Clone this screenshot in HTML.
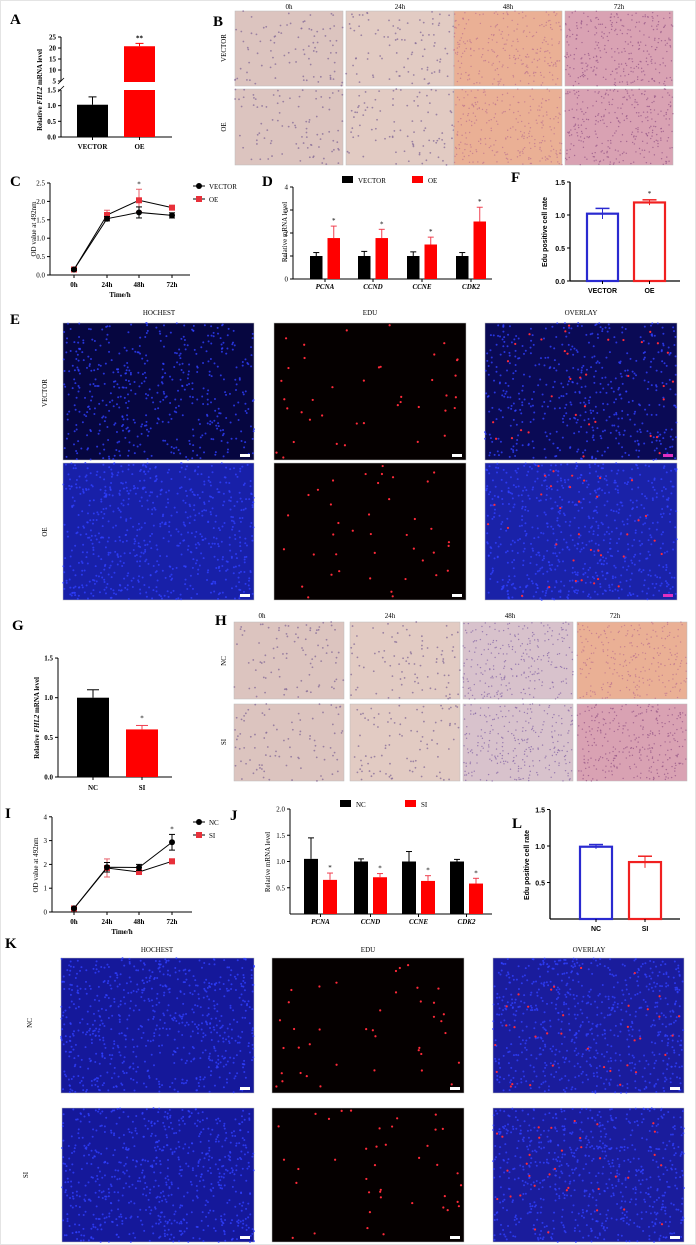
<!DOCTYPE html>
<html><head><meta charset="utf-8"><style>
html,body{margin:0;padding:0;background:#fff}
svg{display:block;font-family:"Liberation Serif",serif}
.lbl{font-weight:bold;font-size:15px}
.t{font-size:7px}
.tb{font-size:7px;font-weight:bold}
</style></head><body>
<svg id="fig" width="696" height="1245" viewBox="0 0 696 1245" xmlns="http://www.w3.org/2000/svg">
<rect x="0.5" y="0.5" width="695" height="1244" fill="#fff" stroke="#e4e4e4"/>
<g id="g"></g>
</svg>
<script>
// ---------- DATA ----------
const aCats=["VECTOR","OE"];
const aVals=[1.03,20.8];
const aErr=[0.25,1.3];
const cTimes=["0h","24h","48h","72h"];
const cVector=[0.15,1.53,1.70,1.62];
const cVectorErr=[0.03,0.06,0.15,0.07];
const cOE=[0.15,1.63,2.03,1.83];
const cOEErr=[0.03,0.13,0.3,0.03];
const dGenes=["PCNA","CCND","CCNE","CDK2"];
const dVector=[1.0,1.0,1.0,1.0];
const dVectorErr=[0.15,0.2,0.18,0.15];
const dOE=[1.78,1.78,1.5,2.5];
const dOEErr=[0.52,0.38,0.32,0.62];
const fCats=["VECTOR","OE"];
const fVals=[1.02,1.19];
const fErr=[0.08,0.04];
const gCats=["NC","SI"];
const gVals=[1.0,0.6];
const gErr=[0.1,0.05];
const iNC=[0.15,1.88,1.87,2.93];
const iNCErr=[0.03,0.2,0.13,0.33];
const iSI=[0.15,1.85,1.68,2.13];
const iSIErr=[0.03,0.38,0.05,0.1];
const jNC=[1.05,1.0,1.0,1.0];
const jNCErr=[0.4,0.05,0.19,0.04];
const jSI=[0.65,0.7,0.63,0.58];
const jSIErr=[0.13,0.07,0.1,0.1];
const lCats=["NC","SI"];
const lVals=[0.99,0.78];
const lErr=[0.03,0.08];
const aTicksLow=["0.0","0.5","1.0","1.5"];
const aTicksHigh=["5","10","15","20","25"];

// ---------- helpers ----------
const NS="http://www.w3.org/2000/svg";
const G=document.getElementById('g');
function el(tag,attrs,parent,txt){const e=document.createElementNS(NS,tag);for(const k in attrs)e.setAttribute(k,attrs[k]);if(txt!==undefined)e.textContent=txt;(parent||G).appendChild(e);return e;}
function line(x1,y1,x2,y2,c,w,p){return el('line',{x1,y1,x2,y2,stroke:c||'#000','stroke-width':w||1},p);}
function text(x,y,s,cls,anchor,p,extra){const t=el('text',Object.assign({x,y,class:cls||'t','text-anchor':anchor||'middle'},extra||{}),p,s);return t;}
function errBar(x,yTop,yVal,c,p,hw){hw=hw||4;line(x,yTop,x,yVal,c,1,p);line(x-hw,yTop,x+hw,yTop,c,1,p);}
let seed=7;function rnd(){seed=(seed*16807)%2147483647;return (seed-1)/2147483646;}

function panelLabel(x,y,s){const t=text(x,y,s,'lbl','start');}

// micrograph tile
function tile(x,y,w,h,kind,name){
  const g=el('g',{});
  
  
  const bg={pale:'#dcc4bf',pale2:'#e2cbc3',orange:'#eab095',pink:'#d9a2b3',lilac:'#d8c2cc',hoD:'#060640',hoB:'#1820a8',hoK:'#15189a',edu:'#050000',ovD:'#0a0a55',ovB:'#1a22a8',ovK:'#1a1c9c'}[kind];
  el('rect',{x,y,width:w,height:h,fill:bg,stroke:'#bbb','stroke-width':0.5},g);
  let n=0,col='#000',r=1,red=0;
  if(kind==='pale'||kind==='pale2'){n=90;col='#8a6f9a';r=0.9;}
  if(kind==='orange'){n=260;col='#c07890';r=0.7;}
  if(kind==='pink'){n=300;col='#9a5a8a';r=0.7;}
  if(kind==='lilac'){n=260;col='#8a6aa8';r=0.7;}
  if(kind.startsWith('ho')||kind.startsWith('ov')){n=kind==='hoD'||kind==='ovD'?500:700;col='#3040ff';r=1;}
  if(kind==='edu'){n=0;red=40;}
  if(kind.startsWith('ov'))red=35;
  for(let i=0;i<n;i++)el('circle',{cx:x+rnd()*w,cy:y+rnd()*h,r:r,fill:col,opacity:0.8},g);
  for(let i=0;i<red;i++)el('circle',{cx:x+2+rnd()*(w-4),cy:y+2+rnd()*(h-4),r:1.1,fill:'#ff2a3a'},g);
  if(kind.startsWith('ho')||kind==='edu'||kind.startsWith('ov'))el('rect',{x:x+w-14,y:y+h-6,width:10,height:3,fill:kind.startsWith('ov')&&kind!=='ovK'?'#e030c0':'#fff'},g);
}

function yAxis(x,y0,yTop,ticks,fmt,bold){line(x,y0,x,yTop);ticks.forEach(v=>{const yy=fmt.y(v);line(x-3,yy,x,yy);text(x-5,yy+2.5,fmt.s(v),bold?'tb':'t','end');});}

// ---------- Panel A ----------
panelLabel(10,24,'A');
(function(){
  const X=61,y0=137;const yLow=v=>y0-v*(47/1.5);const yHigh=v=>81-(v-5)*(44/20);
  line(X,y0,X,90);line(X,81,X,37);
  aTicksLow.forEach(s=>{const v=parseFloat(s);line(X-3,yLow(v),X,yLow(v));text(X-5,yLow(v)+2.5,s,'tb','end');});
  aTicksHigh.forEach(s=>{const v=parseFloat(s);line(X-3,yHigh(v),X,yHigh(v));text(X-5,yHigh(v)+2.5,s,'tb','end');});
  line(X-3,92,X+3,86,'#000',0.8);line(X-3,84,X+3,78,'#000',0.8);
  line(X,y0,172,y0);
  const cx=[92.5,139.5];const cols=['#000','#ff0000'];
  const b0=el('rect',{x:77,y:yLow(aVals[0]),width:31,height:y0-yLow(aVals[0]),fill:cols[0]});
  errBar(cx[0],yLow(aVals[0]+aErr[0]),yLow(aVals[0]),'#000');
  const b1=el('rect',{x:124,y:90,width:31,height:y0-90,fill:cols[1]});
  const b2=el('rect',{x:124,y:yHigh(aVals[1]),width:31,height:82-yHigh(aVals[1]),fill:cols[1]});
  errBar(cx[1],yHigh(aVals[1]+aErr[1]),yHigh(aVals[1]),'#ff0000');
  text(cx[1],yHigh(aVals[1]+aErr[1])-3,'**','tb');
  aCats.forEach((c,i)=>{line(cx[i],y0,cx[i],y0+3);text(cx[i],149,c,'tb');});
  const yt=text(0,0,'','tb','middle',G,{transform:'translate(42,90) rotate(-90)'});
  
  yt.innerHTML='Relative <tspan font-style="italic">FHL2</tspan> mRNA level';
})();

// ---------- Panel B ----------
panelLabel(213,26,'B');
(function(){
  const xs=[235,346,454,565],w=108,labs=["0h","24h","48h","72h"];
  const k1=['pale','pale2','orange','pink'],k2=['pale','pale2','orange','pink'];
  labs.forEach((l,i)=>{text(xs[i]+w/2,9,l,'t','middle',G,{'font-size':'9'});
    tile(xs[i],11,w,75,k1[i],'b-vector-'+l);tile(xs[i],89,w,76,k2[i],'b-oe-'+l);});
  text(0,0,'VECTOR','t','middle',G,{transform:'translate(226,48) rotate(-90)','font-size':'10'});
  text(0,0,'OE','t','middle',G,{transform:'translate(226,127) rotate(-90)','font-size':'10'});
})();

// ---------- line charts ----------
function lineChart(X,y0,yTop,xs,ticks,tickLabels,yScale,s1,e1,s2,e2,names,legX,legY,prefix,star){
  line(X,y0,X,yTop);line(X,y0,X+140,y0);
  ticks.forEach((v,i)=>{const yy=yScale(v);line(X-3,yy,X,yy);text(X-5,yy+2.5,tickLabels[i],'t','end');});
  cTimes.forEach((t,i)=>{line(xs[i],y0,xs[i],y0+3);text(xs[i],y0+12,t,'tb');});
  text(X+70,y0+22,'Time/h','tb');
  const series=[[s2,e2,'#e8303a','sq',names[1]],[s1,e1,'#000','ci',names[0]]];
  series.forEach(([s,e,c,m,nm])=>{
    const pts=s.map((v,i)=>xs[i]+','+yScale(v)).join(' ');
    const pl=el('polyline',{points:pts,fill:'none',stroke:'#000','stroke-width':1});
    
    s.forEach((v,i)=>{const y=yScale(v);const ec=c==='#000'?'#000':'#e8606a';line(xs[i],yScale(v+e[i]),xs[i],yScale(v-e[i]),ec);line(xs[i]-3,yScale(v+e[i]),xs[i]+3,yScale(v+e[i]),ec);line(xs[i]-3,yScale(v-e[i]),xs[i]+3,yScale(v-e[i]),ec);
      const mk=m==='sq'?el('rect',{x:xs[i]-3,y:y-3,width:6,height:6,fill:c}):el('circle',{cx:xs[i],cy:y,r:3,fill:c});
      });
  });
  if(star!==undefined){const i=star;text(xs[i],yScale(Math.max(s1[i]+e1[i],s2[i]+e2[i]))-3,'*','t');}
  [[names[0],'#000','ci'],[names[1],'#e8303a','sq']].forEach(([nm,c,m],k)=>{const y=legY+k*13;line(legX,y,legX+12,y);
    if(m==='sq')el('rect',{x:legX+3,y:y-3,width:6,height:6,fill:c});else el('circle',{cx:legX+6,cy:y,r:3,fill:c});
    const t=text(legX+16,y+3,nm,'t','start',G,{'font-size':'8'});});
}
panelLabel(10,186,'C');
lineChart(50,275,183,[74,107,139,172],[0,0.5,1,1.5,2,2.5],["0.0","0.5","1.0","1.5","2.0","2.5"],v=>275-v*36.8,cVector,cVectorErr,cOE,cOEErr,["VECTOR","OE"],193,186,'c',2);
text(0,0,'OD value at 492nm','t','middle',G,{transform:'translate(36,229) rotate(-90)'});

panelLabel(5,818,'I');
lineChart(52,912,817,[74,107,139,172],[0,1,2,3,4],["0","1","2","3","4"],v=>912-v*23.8,iNC,iNCErr,iSI,iSIErr,["NC","SI"],193,822,'i',3);
text(0,0,'OD value at 492nm','t','middle',G,{transform:'translate(38,865) rotate(-90)'});

// ---------- grouped bars ----------
function groupBars(X,y0,yTop,yScale,ticks,tickLabels,v1,e1,v2,e2,starts,bw,names,legXs,legY,prefix){
  line(X,y0,X,yTop);line(X,y0,492,y0);
  ticks.forEach((v,i)=>{const yy=yScale(v);line(X-3,yy,X,yy);text(X-5,yy+2.5,tickLabels[i],'t','end');});
  dGenes.forEach((gname,i)=>{const x=starts[i];
    const r1=el('rect',{x,y:yScale(v1[i]),width:bw,height:y0-yScale(v1[i]),fill:'#000'});
    errBar(x+bw/2,yScale(v1[i]+e1[i]),yScale(v1[i]),'#000',G,3);
    const x2=x+bw+5;
    const r2=el('rect',{x:x2,y:yScale(v2[i]),width:bw,height:y0-yScale(v2[i]),fill:'#ff0000'});
    errBar(x2+bw/2,yScale(v2[i]+e2[i]),yScale(v2[i]),'#f04050',G,3);
    text(x2+bw/2,yScale(v2[i]+e2[i])-3,'*','t');
    line(x+bw+2.5,y0,x+bw+2.5,y0+3);
    text(x+bw+2.5,y0+10,gname,'tb','middle',G,{'font-style':'italic'});
  });
  [[names[0],'#000'],[names[1],'#ff0000']].forEach(([nm,c],k)=>{el('rect',{x:legXs[k],y:legY-4,width:11,height:7,fill:c});
    const t=text(legXs[k]+16,legY+3,nm,'t','start',G,{'font-size':'9'});});
}
panelLabel(262,186,'D');
groupBars(293,279,187,v=>279-v*23,[0,1,2,3,4],["0","1","2","3","4"],dVector,dVectorErr,dOE,dOEErr,[310,358,407,456],12.5,["VECTOR","OE"],[342,412],180,'d');
text(0,0,'Relative mRNA level','t','middle',G,{transform:'translate(287,232) rotate(-90)'});

panelLabel(230,820,'J');
groupBars(290,914,809,v=>914-v*52.5,[0.5,1.0,1.5,2.0],["0.5","1.0","1.5","2.0"],jNC,jNCErr,jSI,jSIErr,[304,354,402,450],14,["NC","SI"],[340,405],804,'j');
text(0,0,'Relative mRNA level','t','middle',G,{transform:'translate(270,862) rotate(-90)'});

// ---------- outline bar charts (F, L) ----------
function outlineBars(X,y0,yTop,yScale,ticks,cats,vals,errs,xs,bw,prefix,star,big){
  line(X,y0,X,yTop,'#000',1.3);line(X,y0,680,y0,'#000',1.3);
  ticks.forEach(v=>{const yy=yScale(v);line(X-3,yy,X,yy);text(X-5,yy+3,v.toFixed(1),'tb','end',G,{'font-family':'Liberation Sans,sans-serif','font-size':big?'9':'8'});});
  const cols=['#2a2ad0','#f02020'];
  cats.forEach((c,i)=>{const r=el('rect',{x:xs[i],y:yScale(vals[i]),width:bw,height:y0-yScale(vals[i]),fill:'none',stroke:cols[i],'stroke-width':2.2});
    
    const cx=xs[i]+bw/2;line(cx,yScale(vals[i]+errs[i]),cx,yScale(vals[i]-errs[i]),cols[i]);line(cx-7,yScale(vals[i]+errs[i]),cx+7,yScale(vals[i]+errs[i]),cols[i],1.5);
    line(cx,y0,cx,y0+3);text(cx,y0+12,c,'tb','middle',G,{'font-family':'Liberation Sans,sans-serif','font-size':big?'11':'8'});});
  if(star!==undefined)text(xs[star]+bw/2,yScale(vals[star]+errs[star])-4,'*','t');
}
panelLabel(511,182,'F');
outlineBars(570,281,182,v=>281-v*66,[0,0.5,1,1.5],fCats,fVals,fErr,[587,634],31,'f',1,false);
text(0,0,'Edu positive cell rate','tb','middle',G,{transform:'translate(547,232) rotate(-90)','font-family':'Liberation Sans,sans-serif'});

panelLabel(512,828,'L');
outlineBars(550,919,810,v=>919-v*73,[0.5,1,1.5],lCats,lVals,lErr,[580,629],32,'l',undefined,true);
text(0,0,'Edu positive cell rate','tb','middle',G,{transform:'translate(529,865) rotate(-90)','font-size':'9','font-family':'Liberation Sans,sans-serif'});

// ---------- Panel G ----------
panelLabel(12,630,'G');
(function(){
  const X=58,y0=777,ys=v=>y0-v*79.3;
  yAxis(X,y0,658,[0,0.5,1,1.5],{y:ys,s:v=>v.toFixed(1)},true);
  line(X,y0,172,y0);
  const xs=[77,126],cols=['#000','#ff0000'];
  gCats.forEach((c,i)=>{const r=el('rect',{x:xs[i],y:ys(gVals[i]),width:32,height:y0-ys(gVals[i]),fill:cols[i]});
    errBar(xs[i]+16,ys(gVals[i]+gErr[i]),ys(gVals[i]),cols[i]==='#000'?'#000':'#f04050',G,6);
    line(xs[i]+16,y0,xs[i]+16,y0+3);text(xs[i]+16,790,c,'tb');});
  text(142,ys(gVals[1]+gErr[1])-5,'*','t');
  const yt=text(0,0,'','tb','middle',G,{transform:'translate(39,718) rotate(-90)'});
  
  yt.innerHTML='Relative <tspan font-style="italic">FHL2</tspan> mRNA level';
})();

// ---------- Panel H ----------
panelLabel(215,625,'H');
(function(){
  const xs=[234,350,463,577],w=110,labs=["0h","24h","48h","72h"],k=['pale','pale2','lilac','orange'];
  const lx=[262,390,510,615];
  labs.forEach((l,i)=>{text(lx[i],618,l,'t','middle',G,{'font-size':'9'});tile(xs[i],622,w,77,k[i],'h-nc-'+l);tile(xs[i],704,w,77,i==3?'pink':k[i],'h-si-'+l);});
  text(0,0,'NC','t','middle',G,{transform:'translate(226,661) rotate(-90)','font-size':'10'});
  text(0,0,'SI','t','middle',G,{transform:'translate(226,742) rotate(-90)','font-size':'10'});
})();

// ---------- Panel E ----------
panelLabel(10,324,'E');
(function(){
  const xs=[63,274,485],w=192,titles=['HOCHEST','EDU','OVERLAY'];
  titles.forEach((t,i)=>text(xs[i]+w/2,315,t,'t','middle',G,{'font-size':'9'}));
  tile(63,323,191,137,'hoD','e-vector-hochest');tile(274,323,192,137,'edu','e-vector-edu');tile(485,323,192,137,'ovD','e-vector-overlay');
  tile(63,463,191,137,'hoB','e-oe-hochest');tile(274,463,192,137,'edu','e-oe-edu');tile(485,463,192,137,'ovB','e-oe-overlay');
  text(0,0,'VECTOR','t','middle',G,{transform:'translate(47,393) rotate(-90)','font-size':'10'});
  text(0,0,'OE','t','middle',G,{transform:'translate(47,532) rotate(-90)','font-size':'10'});
})();

// ---------- Panel K ----------
panelLabel(5,948,'K');
(function(){
  const xs=[61,272,493],w=192,titles=['HOCHEST','EDU','OVERLAY'];
  titles.forEach((t,i)=>text(xs[i]+w/2,952,t,'t','middle',G,{'font-size':'9'}));
  tile(61,958,193,135,'hoK','k-nc-hochest');tile(272,958,192,135,'edu','k-nc-edu');tile(493,958,191,135,'ovK','k-nc-overlay');
  tile(62,1108,192,134,'hoK','k-si-hochest');tile(272,1108,192,134,'edu','k-si-edu');tile(493,1108,191,134,'ovK','k-si-overlay');
  text(0,0,'NC','t','middle',G,{transform:'translate(32,1023) rotate(-90)','font-size':'10'});
  text(0,0,'SI','t','middle',G,{transform:'translate(28,1175) rotate(-90)','font-size':'10'});
})();
</script>
</body></html>
